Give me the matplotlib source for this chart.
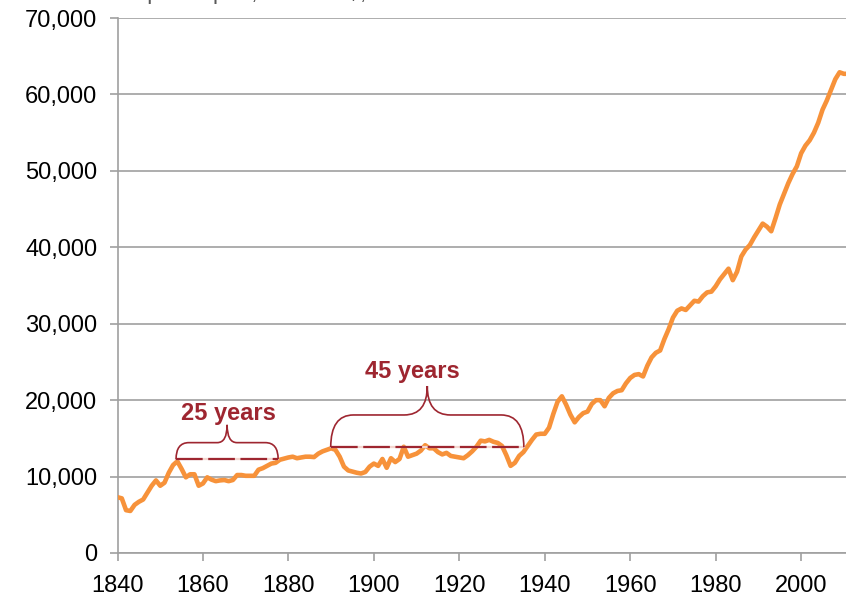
import numpy as np
import matplotlib
matplotlib.use("Agg")
import matplotlib.pyplot as plt
from matplotlib.path import Path
from matplotlib.patches import PathPatch
from matplotlib.ticker import FuncFormatter

plt.rcParams["font.family"] = ["Liberation Sans", "DejaVu Sans"]

# GDP per capita
years = list(range(1840, 2012))
gdp = [
    7300, 7150, 5600, 5500, 6300, 6700, 7000, 7900, 8800, 9500,
    8800, 9200, 10500, 11500, 12000, 11000, 9900, 10300, 10300, 8800,
    9100, 9900, 9600, 9400, 9500, 9550, 9400, 9550, 10200, 10200,
    10100, 10100, 10100, 10900, 11100, 11400, 11700, 11800, 12200, 12350,
    12500, 12600, 12400, 12500, 12600, 12600, 12550, 13000, 13300, 13500,
    13700, 13500, 12600, 11300, 10800, 10650, 10500, 10400, 10600, 11300,
    11700, 11400, 12300, 11150, 12400, 11900, 12300, 13900, 12600, 12800,
    13000, 13400, 14100, 13700, 13700, 13200, 12900, 13100, 12700, 12600,
    12500, 12400, 12800, 13300, 13900, 14700, 14600, 14800, 14550, 14400,
    14000, 12800, 11400, 11800, 12700, 13200, 14000, 14800, 15500, 15600,
    15600, 16400, 18200, 19800, 20500, 19400, 18100, 17100, 17800, 18300,
    18500, 19500, 20000, 20000, 19200, 20300, 20900, 21200, 21300, 22200,
    22900, 23300, 23400, 23100, 24500, 25600, 26200, 26500, 28000, 29300,
    30800, 31700, 32000, 31800, 32400, 33000, 32900, 33600, 34100, 34200,
    34900, 35800, 36500, 37200, 35700, 36800, 38800, 39700, 40300, 41300,
    42200, 43100, 42700, 42100, 43800, 45600, 47000, 48400, 49600, 50600,
    52300, 53300, 54000, 55000, 56300, 58000, 59200, 60600, 62000, 62900,
    62700, 62700,
]

x_ticks = list(range(1840, 2001, 20))
y_ticks = list(range(0, 70001, 10000))

# annotation spans: start year, end year, level, label
spans = [
    (1853.7, 1877.6, 12260, "25 years"),
    (1889.9, 1935.1, 13830, "45 years"),
]

line_color = "#F7923A"
red = "#9E2630"
grid_gray = "#A0A0A0"


def draw_brace(ax, x0, x1, yb, yt, yp, r, r2):
    # curly brace opening downwards, peak in the middle
    xm = (x0 + x1) / 2
    verts = [
        (x0, yb), (x0, yt), (x0 + r, yt),
        (xm - r2, yt),
        (xm, yt), (xm, yp),
        (xm, yt), (xm + r2, yt),
        (x1 - r, yt),
        (x1, yt), (x1, yb),
    ]
    codes = [Path.MOVETO, Path.CURVE3, Path.CURVE3,
             Path.LINETO,
             Path.CURVE3, Path.CURVE3,
             Path.CURVE3, Path.CURVE3,
             Path.LINETO,
             Path.CURVE3, Path.CURVE3]
    ax.add_patch(PathPatch(Path(verts, codes), facecolor="none",
                           edgecolor=red, lw=1.2, zorder=4))


fig = plt.figure(figsize=(8.46, 5.95), dpi=100)
ax = fig.add_axes([0.1389, 0.0706, 0.8611, 0.8991])

ax.plot(years, gdp, color=line_color, lw=3.3, solid_joinstyle="round", zorder=3)

ax.set_xlim(1840, 2010.5)
ax.set_ylim(0, 70000)
ax.set_xticks(x_ticks)
ax.set_yticks(y_ticks)
ax.yaxis.set_major_formatter(FuncFormatter(lambda v, p: f"{int(v):,}"))

ax.grid(axis="y", color=grid_gray, lw=1.2)
ax.set_axisbelow(True)
for s in ["top", "right"]:
    ax.spines[s].set_visible(False)
for s in ["left", "bottom"]:
    ax.spines[s].set_color(grid_gray)
    ax.spines[s].set_linewidth(1.2)
ax.tick_params(axis="both", colors=grid_gray, labelcolor="black",
               labelsize=17, length=5.5, width=1.2)
ax.tick_params(axis="y", pad=9)
ax.tick_params(axis="x", pad=10)

# braces and dashed levels
brace_shapes = [(14440, 16770, 3.0, 2.3), (18060, 21850, 5.3, 5.4)]
label_pos = [(1865.9, 17420), (1909.0, 22920)]
for (x0, x1, lvl, lab), (yt, yp, r, r2), (lx, ly) in zip(spans, brace_shapes, label_pos):
    ax.plot([x0, x1], [lvl, lvl], color="#F4D6CF", lw=1.6, zorder=4)
    ax.plot([x0, x1], [lvl, lvl], color=red, lw=1.6, dashes=(12, 2.5), zorder=5)
    draw_brace(ax, x0, x1, lvl, yt, yp, r, r2)
    ax.text(lx, ly, lab, color=red, fontsize=17, fontweight="bold",
            ha="center", va="baseline", zorder=6)

# title is cut off at the top edge of the image, only descenders show
fig.text(90 / 846, 1 + 0.5 / 595, "GDP per capita, in 2011 $,", color="#595959",
         fontsize=17, ha="left", va="baseline")

fig.savefig("out.png", dpi=100)
